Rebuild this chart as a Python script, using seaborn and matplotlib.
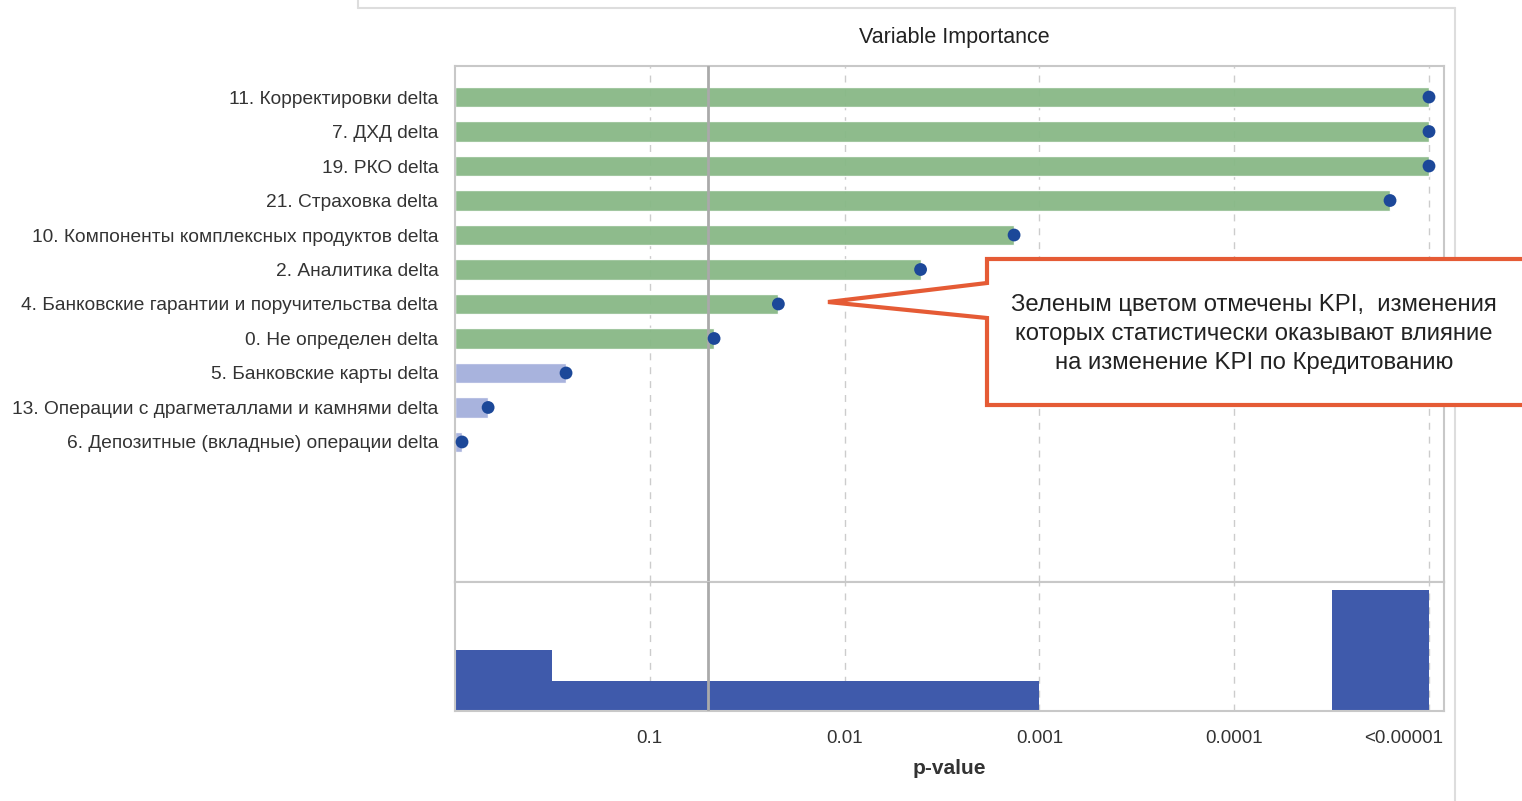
import numpy as np
import pandas as pd
import matplotlib.pyplot as plt
import matplotlib.transforms as mtrans
import seaborn as sns
from matplotlib.patches import Polygon
from matplotlib.lines import Line2D

# -log10(p-value) for each KPI
labels = [
    "11. Корректировки delta",
    "7. ДХД delta",
    "19. РКО delta",
    "21. Страховка delta",
    "10. Компоненты комплексных продуктов delta",
    "2. Аналитика delta",
    "4. Банковские гарантии и поручительства delta",
    "0. Не определен delta",
    "5. Банковские карты delta",
    "13. Операции с драгметаллами и камнями delta",
    "6. Депозитные (вкладные) операции delta",
]
scores = [5.0, 5.0, 5.0, 4.8, 2.87, 2.39, 1.66, 1.33, 0.57, 0.17, 0.036]

tick_pos = [1, 2, 3, 4, 5]
tick_labels = ["0.1", "0.01", "0.001", "0.0001", "<0.00001"]
hist_bins = [0, 0.5, 3, 4.5, 5]
threshold = -np.log10(0.05)

note = ("Зеленым цветом отмечены KPI,  изменения\n"
        "которых статистически оказывают влияние\n"
        "на изменение KPI по Кредитованию")

sns.set_style("white")
plt.rcParams["font.family"] = ["Liberation Sans", "DejaVu Sans"]

df = pd.DataFrame({"label": labels, "score": scores})
df["signif"] = df["score"] >= threshold
palette = {l: ("#88b886" if s else "#a3afdc") for l, s in zip(df["label"], df["signif"])}

W, H = 1522, 801
fig = plt.figure(figsize=(W / 100, H / 100), dpi=100)

def fx(px):
    return px / W

def fy(py):
    return 1 - py / H

ax = fig.add_axes([fx(455), fy(582), fx(1444) - fx(455), fy(66) - fy(582)])
ax2 = fig.add_axes([fx(455), fy(711), fx(1444) - fx(455), fy(582) - fy(711)])

xmax = (1444 - 455) / 194.8

# bars + dots
sns.barplot(data=df, x="score", y="label", hue="label", palette=palette,
            width=0.6, legend=False, orient="h", ax=ax, saturation=1,
            alpha=0.95, zorder=2)
sns.scatterplot(data=df, x="score", y="label", color="#1c4899", s=85,
                edgecolor="none", ax=ax, zorder=4, clip_on=False)

ax.set_xlim(0, xmax)
ax.set_ylim(14.06, -0.9)
ax.set_xticks(tick_pos)
ax.set_xticklabels([])
ax.set_xlabel("")
ax.set_ylabel("")
ax.tick_params(axis="both", length=0)
ax.tick_params(axis="y", labelsize=13.8, labelcolor="#333333", pad=12)
for t in tick_pos:
    ax.axvline(t, color="#cccccc", ls=(0, (5, 5)), lw=1, zorder=1)
ax.axvline(threshold, color="#aaaaaa", lw=2, zorder=3)

# histogram of scores
sns.histplot(x=scores, bins=hist_bins, stat="density", color="#3f5aab",
             alpha=1, edgecolor="none", ax=ax2, zorder=2)
ax2.set_xlim(0, xmax)
ax2.set_ylim(0, 0.727 * 129 / 121)
ax2.set_yticks([])
ax2.set_ylabel("")
ax2.set_xticks(tick_pos)
ax2.set_xticklabels(tick_labels)
ax2.tick_params(axis="x", length=0, labelsize=13.5, labelcolor="#333333", pad=14)
last = ax2.get_xticklabels()[-1]
last.set_horizontalalignment("right")
last.set_transform(last.get_transform() +
                   mtrans.ScaledTranslation(14 / 100, 0, fig.dpi_scale_trans))
ax2.set_xlabel("p-value", fontsize=15, fontweight="bold", color="#333333", labelpad=8)
for t in tick_pos:
    ax2.axvline(t, color="#cccccc", ls=(0, (5, 5)), lw=1, zorder=1)
ax2.axvline(threshold, color="#aaaaaa", lw=2, zorder=3)

for a in (ax, ax2):
    for sp in a.spines.values():
        sp.set_color("#c8c8c8")
        sp.set_linewidth(1.5)

fig.text(fx(954), fy(37), "Variable Importance", ha="center", va="center",
         fontsize=15.5, color="#222222")

# screenshot frame lines
fig.add_artist(Line2D([fx(358), fx(1455)], [fy(8), fy(8)], color="#dddddd", lw=1.5))
fig.add_artist(Line2D([fx(1455), fx(1455)], [fy(8), fy(801)], color="#dddddd", lw=1.5))
fig.add_artist(Line2D([fx(358), fx(358)], [fy(0), fy(8)], color="#dddddd", lw=1.5))

# callout
pts = [(987, 259), (1530, 259), (1530, 405), (987, 405), (987, 318), (828, 302), (987, 283)]
callout = Polygon([(fx(x), fy(y)) for x, y in pts], closed=True, facecolor="white",
                  edgecolor="#e55b35", lw=3, transform=fig.transFigure, zorder=10)
fig.add_artist(callout)
fig.text(fx(1254), fy(334), note, ha="center", va="center", fontsize=17.2,
         color="#222222", linespacing=1.42, zorder=11)

fig.savefig("out.png", dpi=100)
